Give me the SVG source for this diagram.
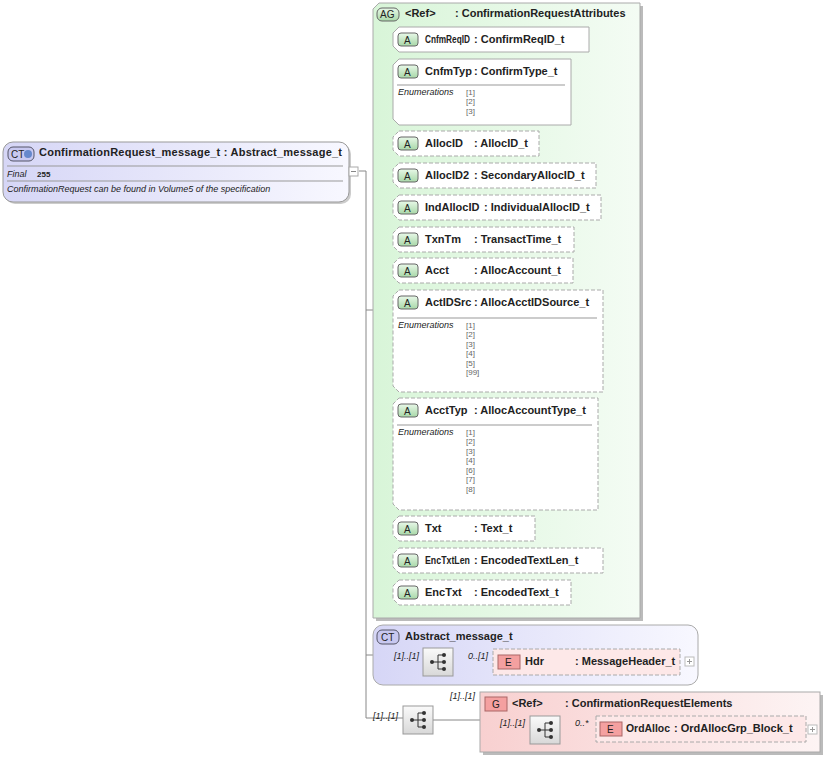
<svg xmlns="http://www.w3.org/2000/svg" width="827" height="758" viewBox="0 0 827 758">
<defs>
<linearGradient id="gAG" x1="0" y1="0" x2="1" y2="0"><stop offset="0" stop-color="#d8f5d8"/><stop offset="1" stop-color="#f4fcf4"/></linearGradient>
<linearGradient id="gCT" x1="0" y1="0" x2="1" y2="0"><stop offset="0" stop-color="#d6d6f6"/><stop offset="1" stop-color="#f8f8ff"/></linearGradient>
<linearGradient id="gG" x1="0" y1="0" x2="1" y2="0"><stop offset="0" stop-color="#f8d0d0"/><stop offset="1" stop-color="#fdf4f4"/></linearGradient>
<linearGradient id="gSeq" x1="0" y1="0" x2="0" y2="1"><stop offset="0" stop-color="#fafafa"/><stop offset="1" stop-color="#d8d8d8"/></linearGradient>
<linearGradient id="gA" x1="0" y1="0" x2="0" y2="1"><stop offset="0" stop-color="#e8f8e8"/><stop offset="1" stop-color="#a8d8a8"/></linearGradient>
<g id="seq"><rect x="0" y="0" width="30" height="28" fill="url(#gSeq)" stroke="#999"/><circle cx="9" cy="14" r="2" fill="#333"/><line x1="9" y1="14" x2="15" y2="14" stroke="#333"/><path d="M15 7V21M15 7H20M15 14H20M15 21H20" stroke="#333" fill="none"/><circle cx="21" cy="7" r="2" fill="#333"/><circle cx="21" cy="14" r="2" fill="#333"/><circle cx="21" cy="21" r="2" fill="#333"/></g>
</defs>
<style>
text{font-family:"Liberation Sans",Arial,sans-serif;fill:#222}
.n{font-size:11px;font-weight:bold}
.m{font-size:11px;font-weight:bold}
.s{font-size:9px;font-style:italic}
.e{font-size:8px;fill:#666}
.ab{fill:#fff;stroke:#aaa}
.d{stroke-dasharray:4,2}
.ln{stroke:#888;fill:none}
.sep{stroke:#999}
.ic{fill:url(#gA);stroke:#666}
</style>
<g id="connectors">
<path class="ln" d="M359 171H366V718M366 310H373M366 655H373M366 718H403M432 720H480M373 662H423M454 662H493M480 729H530M560 729H596M385 40V593M385 39H393M385 72H393M385 143H393M385 175H393M385 207H393M385 239H393M385 270H393M385 302H393M385 410H393M385 528H393M385 560H393M385 592H393"/>
</g>
<g id="main">
<rect x="5" y="144" width="346" height="60" rx="10" fill="#ccc"/>
<rect x="3" y="142" width="346" height="60" rx="10" fill="url(#gCT)" stroke="#999"/>
<rect x="8" y="147" width="26" height="14" rx="5" fill="#c8c8f0" stroke="#556"/>
<text x="11" y="158" font-size="10">CT</text><circle cx="28" cy="154" r="4" fill="#6688cc"/>
<text x="39" y="156" class="n" textLength="303" lengthAdjust="spacing">ConfirmationRequest_message_t : Abstract_message_t</text>
<line x1="7" y1="166" x2="343" y2="166" class="sep"/>
<text x="7" y="177" class="s">Final</text><text x="37" y="177" font-size="8" font-weight="bold">255</text>
<line x1="7" y1="181" x2="343" y2="181" class="sep"/>
<text x="7" y="192" class="s">ConfirmationRequest can be found in Volume5 of the specification</text>
<rect x="349" y="167" width="9" height="9" fill="#fff" stroke="#aaa"/><line x1="351" y1="171.5" x2="356" y2="171.5" stroke="#888"/>
</g>
<g id="ag">
<rect x="376" y="6" width="267" height="615" fill="#bbb"/>
<path d="M379 3H640V618H373V9Z" fill="url(#gAG)" stroke="#aaa"/>
<rect x="377" y="8" width="22" height="13" rx="5" fill="url(#gA)" stroke="#666"/><text x="380" y="18" font-size="10">AG</text>
<text x="405" y="17" class="n">&lt;Ref&gt;</text><text x="455" y="17" class="n">: ConfirmationRequestAttributes</text>
</g>
<g id="attrs">
<g><path class="ab" d="M399 27H589V52H399L393 46V33Z"/><rect class="ic" x="398" y="33" width="20" height="13" rx="3"/><text x="404" y="44" font-size="10">A</text><text x="425" y="43" class="m" textLength="45" lengthAdjust="spacingAndGlyphs">CnfmReqID</text><text x="474" y="43" class="m">: ConfirmReqID_t</text></g>
<g><path class="ab" d="M399 59H571V125H399L393 119V65Z"/><rect class="ic" x="398" y="65" width="20" height="13" rx="3"/><text x="404" y="76" font-size="10">A</text><text x="425" y="75" class="m">CnfmTyp</text><text x="474" y="75" class="m">: ConfirmType_t</text><line x1="397" y1="85" x2="565" y2="85" class="sep"/><text x="398" y="95" class="s">Enumerations</text><text x="466" y="95" class="e">[1]</text><text x="466" y="104" class="e">[2]</text><text x="466" y="114" class="e">[3]</text></g>
<g><path class="ab d" d="M399 131H539V156H399L393 150V137Z"/><rect class="ic" x="398" y="137" width="20" height="13" rx="3"/><text x="404" y="148" font-size="10">A</text><text x="425" y="147" class="m">AllocID</text><text x="474" y="147" class="m">: AllocID_t</text></g>
<g><path class="ab d" d="M399 163H596V188H399L393 182V169Z"/><rect class="ic" x="398" y="169" width="20" height="13" rx="3"/><text x="404" y="180" font-size="10">A</text><text x="425" y="179" class="m">AllocID2</text><text x="474" y="179" class="m">: SecondaryAllocID_t</text></g>
<g><path class="ab d" d="M399 195H601V220H399L393 214V201Z"/><rect class="ic" x="398" y="201" width="20" height="13" rx="3"/><text x="404" y="212" font-size="10">A</text><text x="425" y="211" class="m">IndAllocID</text><text x="484" y="211" class="m">: IndividualAllocID_t</text></g>
<g><path class="ab d" d="M399 227H574V252H399L393 246V233Z"/><rect class="ic" x="398" y="233" width="20" height="13" rx="3"/><text x="404" y="244" font-size="10">A</text><text x="425" y="243" class="m">TxnTm</text><text x="474" y="243" class="m">: TransactTime_t</text></g>
<g><path class="ab d" d="M399 258H573V283H399L393 277V264Z"/><rect class="ic" x="398" y="264" width="20" height="13" rx="3"/><text x="404" y="275" font-size="10">A</text><text x="425" y="274" class="m">Acct</text><text x="474" y="274" class="m">: AllocAccount_t</text></g>
<g><path class="ab d" d="M399 290H603V392H399L393 386V296Z"/><rect class="ic" x="398" y="296" width="20" height="13" rx="3"/><text x="404" y="307" font-size="10">A</text><text x="425" y="306" class="m">ActIDSrc</text><text x="474" y="306" class="m">: AllocAcctIDSource_t</text><line x1="397" y1="318" x2="597" y2="318" class="sep"/><text x="398" y="328" class="s">Enumerations</text><text x="466" y="328" class="e">[1]</text><text x="466" y="337" class="e">[2]</text><text x="466" y="347" class="e">[3]</text><text x="466" y="356" class="e">[4]</text><text x="466" y="366" class="e">[5]</text><text x="466" y="375" class="e">[99]</text></g>
<g><path class="ab d" d="M399 398H598V510H399L393 504V404Z"/><rect class="ic" x="398" y="404" width="20" height="13" rx="3"/><text x="404" y="415" font-size="10">A</text><text x="425" y="414" class="m">AcctTyp</text><text x="474" y="414" class="m">: AllocAccountType_t</text><line x1="397" y1="425" x2="592" y2="425" class="sep"/><text x="398" y="435" class="s">Enumerations</text><text x="466" y="435" class="e">[1]</text><text x="466" y="444" class="e">[2]</text><text x="466" y="454" class="e">[3]</text><text x="466" y="463" class="e">[4]</text><text x="466" y="473" class="e">[6]</text><text x="466" y="482" class="e">[7]</text><text x="466" y="492" class="e">[8]</text></g>
<g><path class="ab d" d="M399 516H535V541H399L393 535V522Z"/><rect class="ic" x="398" y="522" width="20" height="13" rx="3"/><text x="404" y="533" font-size="10">A</text><text x="425" y="532" class="m">Txt</text><text x="474" y="532" class="m">: Text_t</text></g>
<g><path class="ab d" d="M399 548H603V573H399L393 567V554Z"/><rect class="ic" x="398" y="554" width="20" height="13" rx="3"/><text x="404" y="565" font-size="10">A</text><text x="425" y="564" class="m" textLength="45" lengthAdjust="spacingAndGlyphs">EncTxtLen</text><text x="474" y="564" class="m">: EncodedTextLen_t</text></g>
<g><path class="ab d" d="M399 580H571V605H399L393 599V586Z"/><rect class="ic" x="398" y="586" width="20" height="13" rx="3"/><text x="404" y="597" font-size="10">A</text><text x="425" y="596" class="m">EncTxt</text><text x="474" y="596" class="m">: EncodedText_t</text></g>
</g>
<g id="abstract">
<rect x="373" y="625" width="325" height="60" rx="10" fill="url(#gCT)" stroke="#aaa"/>
<rect x="377" y="630" width="22" height="14" rx="5" fill="#c8c8f0" stroke="#556"/><text x="381" y="641" font-size="10">CT</text>
<text x="405" y="640" class="n">Abstract_message_t</text>
<text x="394" y="659" class="s">[1]..[1]</text>
<use href="#seq" x="423" y="648"/>
<text x="468" y="659" class="s">0..[1]</text>
</g>
<g id="hdr">
<rect x="493" y="649" width="187" height="26" fill="#fde8e8" stroke="#aaa" class="d"/>
<rect x="498" y="655" width="22" height="14" fill="#f4a0a0" stroke="#a66"/><text x="505" y="666" font-size="10">E</text>
<text x="525" y="665" class="n">Hdr</text><text x="575" y="665" class="n">: MessageHeader_t</text>
<rect x="685" y="657" width="9" height="9" fill="#fff" stroke="#bbb"/><path d="M687 661.5H692M689.5 659V664" stroke="#999"/>
</g>
<g id="seqmain">
<text x="373" y="719" class="s">[1]..[1]</text>
<use href="#seq" x="403" y="706"/>
</g>
<g id="group">
<rect x="483" y="695" width="340" height="60" fill="#bbb"/>
<rect x="480" y="692" width="340" height="60" fill="url(#gG)" stroke="#aaa"/>
<rect x="485" y="697" width="22" height="14" fill="#f4a0a0" stroke="#a66"/><text x="492" y="708" font-size="10">G</text>
<text x="512" y="707" class="n">&lt;Ref&gt;</text><text x="565" y="707" class="n">: ConfirmationRequestElements</text>
<text x="450" y="699" class="s">[1]..[1]</text>
<text x="500" y="726" class="s">[1]..[1]</text>
<use href="#seq" x="530" y="716"/>
<text x="575" y="726" class="s">0..*</text>
</g>
<g id="ordalloc">
<rect x="596" y="716" width="210" height="26" fill="#fde8e8" stroke="#aaa" class="d"/>
<rect x="600" y="722" width="22" height="14" fill="#f4a0a0" stroke="#a66"/><text x="607" y="733" font-size="10">E</text>
<text x="626" y="732" class="n" textLength="44" lengthAdjust="spacingAndGlyphs">OrdAlloc</text><text x="674" y="732" class="n">: OrdAllocGrp_Block_t</text>
<rect x="808" y="725" width="9" height="9" fill="#fff" stroke="#bbb"/><path d="M810 729.5H815M812.5 727V732" stroke="#999"/>
</g>
</svg>
